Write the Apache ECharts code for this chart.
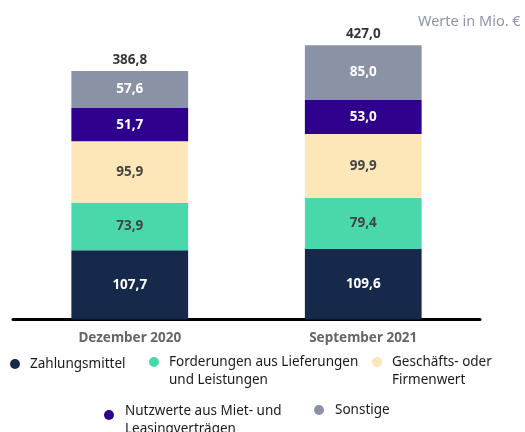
<!DOCTYPE html>
<html>
<head>
<meta charset="utf-8">
<script src="https://cdn.jsdelivr.net/npm/echarts@6/dist/echarts.min.js"></script>
<style>
html, body { margin: 0; padding: 0; background: #fff; }
#chart { width: 525px; height: 432px; }
</style>
</head>
<body>
<div id="chart"></div>
<script>
var categories = ['Dezember 2020', 'September 2021'];
var zahlungsmittel = [107.7, 109.6];
var forderungen = [73.9, 79.4];
var firmenwert = [95.9, 99.9];
var nutzwerte = [51.7, 53.0];
var sonstige = [57.6, 85.0];
var totals = [386.8, 427.0];

var FONT = 'Noto Sans';

function fmt(v) { return Number(v).toFixed(1).replace('.', ','); }

function seg(name, data, color, labelColor) {
    return {
        name: name,
        type: 'bar',
        stack: 'a',
        barWidth: '50%',
        data: data,
        itemStyle: { color: color },
        label: {
            show: true,
            position: 'inside',
            color: labelColor,
            fontFamily: FONT,
            fontWeight: 'bold',
            fontSize: 13.5,
            formatter: function (p) { return fmt(p.value); }
        }
    };
}

// eine Legende pro Eintrag, frei positioniert
// spacer: Höhe einer leeren ersten Zeile, damit das Icon an der ersten Textzeile sitzt
function leg(name, left, top, spacer, padLeft) {
    return {
        data: [name],
        left: left,
        top: top,
        padding: 0,
        icon: 'circle',
        itemWidth: 10,
        itemHeight: 10,
        selectedMode: false,
        formatter: function (n) {
            var out = n.split('\n').map(function (l) { return '{t|' + l + '}'; });
            if (spacer) out.unshift('{s| }');
            return out.join('\n');
        },
        textStyle: {
            rich: {
                t: { fontFamily: FONT, fontSize: 13.5, color: '#1a1a1a', lineHeight: 18, padding: [0, 0, 0, padLeft] },
                s: { fontSize: 4, lineHeight: spacer || 1 }
            }
        }
    };
}

var option = {
    animation: false,
    title: {
        text: 'Werte in Mio. €',
        left: 413,
        top: 9,
        textStyle: { fontFamily: FONT, fontSize: 14.5, fontWeight: 'normal', color: '#8c95a8' }
    },
    grid: { left: 13, right: 45, top: 30.5, bottom: 112.5 },
    legend: [
        leg('Zahlungsmittel', 10, 357, 0, 5),
        leg('Forderungen aus Lieferungen\nund Leistungen', 149, 342, 18, 5),
        leg('Geschäfts- oder\nFirmenwert', 372, 342, 18, 5),
        leg('Nutzwerte aus Miet- und\nLeasingverträgen', 104, 395, 10, 6),
        leg('Sonstige', 314, 403, 0, 6)
    ],
    xAxis: {
        type: 'category',
        data: categories,
        axisLine: { lineStyle: { color: '#000', width: 3 } },
        axisTick: { show: false },
        axisLabel: { margin: 12, color: '#666', fontFamily: FONT, fontWeight: 'bold', fontSize: 13.5 }
    },
    yAxis: { type: 'value', min: 0, max: 450, show: false, splitLine: { show: false } },
    series: [
        seg('Zahlungsmittel', zahlungsmittel, '#16294a', '#fff'),
        seg('Forderungen aus Lieferungen\nund Leistungen', forderungen, '#48d8ac', '#444'),
        seg('Geschäfts- oder\nFirmenwert', firmenwert, '#fde7b9', '#444'),
        seg('Nutzwerte aus Miet- und\nLeasingverträgen', nutzwerte, '#2e008b', '#fff'),
        seg('Sonstige', sonstige, '#8a93a6', '#fff'),
        {
            name: 'Summe',
            type: 'scatter',
            data: totals,
            symbolSize: 0,
            silent: true,
            label: {
                show: true,
                position: 'top',
                distance: 4,
                color: '#000',
                fontFamily: FONT,
                fontWeight: 'bold',
                fontSize: 13.5,
                formatter: function (p) { return fmt(p.value); }
            }
        }
    ]
};

var myChart = echarts.init(document.getElementById('chart'));
myChart.setOption(option);
</script>
</body>
</html>
